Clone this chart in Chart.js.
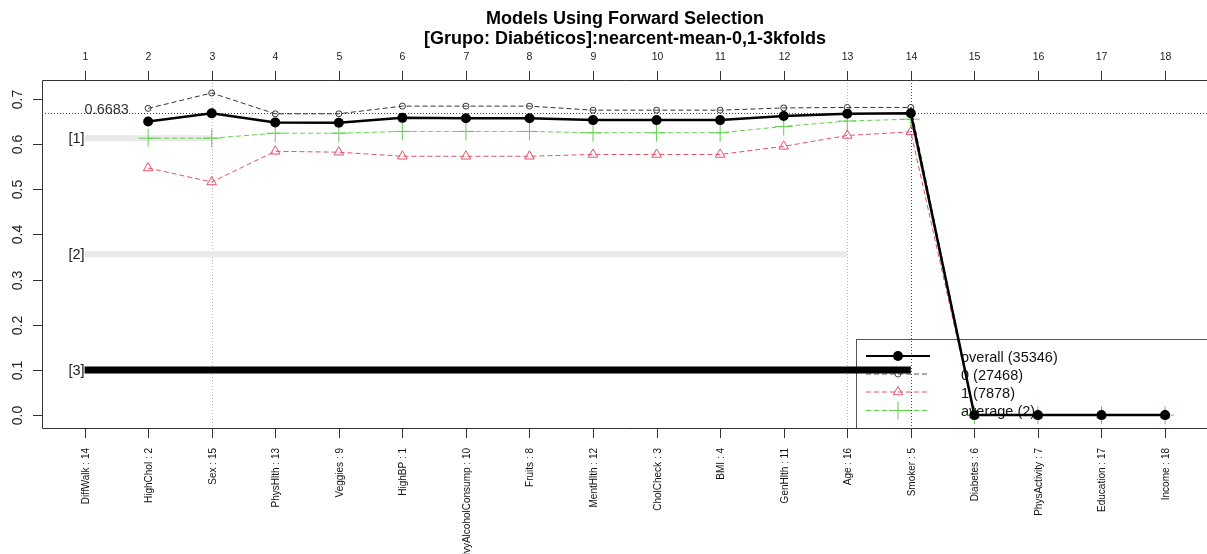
<!DOCTYPE html>
<html>
<head>
<meta charset="utf-8">
<script src="https://cdn.jsdelivr.net/npm/chart.js@4"></script>
<style>
  html, body { margin: 0; padding: 0; background: #fff; overflow: hidden; }
  canvas { display: block; }
</style>
</head>
<body>
<canvas id="myChart" width="1207" height="554"></canvas>
<script>
// data
const titleLines = ["Models Using Forward Selection", "[Grupo: Diabéticos]:nearcent-mean-0,1-3kfolds"];
const categories = [
  "DiffWalk : 14", "HighChol : 2", "Sex : 15", "PhysHlth : 13", "Veggies : 9", "HighBP : 1",
  "HvyAlcoholConsump : 10", "Fruits : 8", "MentHlth : 12", "CholCheck : 3", "BMI : 4", "GenHlth : 11",
  "Age : 16", "Smoker : 5", "Diabetes : 6", "PhysActivity : 7", "Education : 17", "Income : 18",
];
const topTicks = ["1", "2", "3", "4", "5", "6", "7", "8", "9", "10", "11", "12", "13", "14", "15", "16", "17", "18"];
const yTicks = [0, 0.1, 0.2, 0.3, 0.4, 0.5, 0.6, 0.7];
const yTickLabels = ["0.0", "0.1", "0.2", "0.3", "0.4", "0.5", "0.6", "0.7"];

const overall = [null, 0.650, 0.668, 0.648, 0.647, 0.658, 0.657, 0.657, 0.653, 0.653, 0.653, 0.662, 0.667, 0.6683, 0, 0, 0, 0];
const class0 = [null, 0.679, 0.713, 0.667, 0.667, 0.684, 0.684, 0.684, 0.675, 0.675, 0.675, 0.680, 0.681, 0.681, 0, 0, 0, 0];
const class1 = [null, 0.547, 0.516, 0.584, 0.582, 0.573, 0.573, 0.573, 0.577, 0.577, 0.577, 0.595, 0.619, 0.627, 0, 0, 0, 0];
const average = [null, 0.613, 0.613, 0.624, 0.624, 0.628, 0.628, 0.628, 0.625, 0.625, 0.625, 0.639, 0.651, 0.655, 0, 0, 0, 0];

const levelLabels = ["[1]", "[2]", "[3]"];
const levelValues = [0.613, 0.356, 0.1];
const levelEnds = [3, 13, 14];

const bestValue = 0.6683;
const bestStep = 14;
const markedSteps = [3, 13];
const legendLabels = ["overall (35346)", "0 (27468)", "1 (7878)", "average (2)"];

const RED = "#DF536B";
const GREEN = "#61D04F";
const FONT = '"Liberation Sans", Arial, sans-serif';

function toPoints(arr) {
  return arr.map((v, i) => (v === null ? null : { x: i + 1, y: v })).filter((p) => p);
}

function drawMarker(ctx, style, x, y, color, r) {
  ctx.save();
  ctx.setLineDash([]);
  ctx.strokeStyle = color;
  ctx.fillStyle = color;
  ctx.lineWidth = 1;
  ctx.beginPath();
  if (style === "dot") {
    ctx.arc(x, y, r, 0, Math.PI * 2);
    ctx.fill();
  } else if (style === "ring") {
    ctx.arc(x, y, r, 0, Math.PI * 2);
    ctx.stroke();
  } else if (style === "tri") {
    ctx.moveTo(x, y - r);
    ctx.lineTo(x + r * 0.866, y + r * 0.5);
    ctx.lineTo(x - r * 0.866, y + r * 0.5);
    ctx.closePath();
    ctx.stroke();
  } else if (style === "plus") {
    ctx.moveTo(x - r, y);
    ctx.lineTo(x + r, y);
    ctx.moveTo(x, y - r);
    ctx.lineTo(x, y + r);
    ctx.stroke();
  }
  ctx.restore();
}

function seg(ctx, x1, y1, x2, y2) {
  ctx.beginPath();
  ctx.moveTo(x1, y1);
  ctx.lineTo(x2, y2);
  ctx.stroke();
}

const rAxes = {
  id: "rAxes",
  beforeDatasetsDraw(chart) {
    const { ctx, chartArea: a, scales: { x, y } } = chart;
    ctx.save();
    ctx.lineWidth = 1;
    ctx.setLineDash([1, 2]);

    // guide lines
    ctx.strokeStyle = "#b5b5b5";
    markedSteps.forEach((s) => {
      const px = Math.round(x.getPixelForValue(s)) + 0.5;
      seg(ctx, px, a.top, px, a.bottom);
    });
    ctx.strokeStyle = "#444";
    const bx = Math.round(x.getPixelForValue(bestStep)) + 0.5;
    seg(ctx, bx, a.top, bx, a.bottom);
    const by = Math.round(y.getPixelForValue(bestValue)) + 0.5;
    seg(ctx, a.left, by, a.right, by);

    // legend
    ctx.setLineDash([]);
    ctx.strokeStyle = "#555";
    ctx.strokeRect(856.5, 339.5, 400, 89);
    const rows = [356, 374, 392, 410.5];
    const styles = [
      { color: "#000", width: 2, dash: [], marker: "dot", r: 5 },
      { color: "#555", width: 1, dash: [5, 3], marker: "ring", r: 3 },
      { color: RED, width: 1, dash: [5, 3], marker: "tri", r: 5.5 },
      { color: GREEN, width: 1, dash: [5, 3], marker: "plus", r: 9 },
    ];
    styles.forEach((s, i) => {
      ctx.strokeStyle = s.color;
      ctx.lineWidth = s.width;
      ctx.setLineDash(s.dash);
      seg(ctx, 866, rows[i], 930, rows[i]);
      drawMarker(ctx, s.marker, 898, rows[i], s.color, s.r);
      ctx.fillStyle = "#111";
      ctx.font = "14.5px " + FONT;
      ctx.textAlign = "left";
      ctx.textBaseline = "middle";
      ctx.fillText(legendLabels[i], 961, rows[i] + 1.5);
    });
    ctx.restore();
  },
  afterDraw(chart) {
    const { ctx, chartArea: a, scales: { x, y } } = chart;
    ctx.save();
    ctx.strokeStyle = "#333";
    ctx.lineWidth = 1;
    ctx.setLineDash([]);

    // box
    seg(ctx, 42.5, a.top + 0.5, 42.5, a.bottom + 0.5);
    seg(ctx, 42.5, a.top + 0.5, a.right + 2, a.top + 0.5);
    seg(ctx, 42.5, a.bottom + 0.5, a.right + 2, a.bottom + 0.5);

    // top axis
    ctx.fillStyle = "#222";
    ctx.font = "10.5px " + FONT;
    ctx.textAlign = "center";
    ctx.textBaseline = "middle";
    topTicks.forEach((t, i) => {
      const px = Math.round(x.getPixelForValue(i + 1)) + 0.5;
      seg(ctx, px, a.top - 9, px, a.top);
      ctx.fillText(t, px, 57);
    });

    // bottom axis
    ctx.fillStyle = "#111";
    ctx.font = "10px " + FONT;
    categories.forEach((c, i) => {
      const px = Math.round(x.getPixelForValue(i + 1)) + 0.5;
      seg(ctx, px, a.bottom, px, a.bottom + 10);
      ctx.save();
      ctx.translate(px + 1, 448);
      ctx.rotate(-Math.PI / 2);
      ctx.textAlign = "right";
      ctx.textBaseline = "middle";
      ctx.fillText(c, 0, 0);
      ctx.restore();
    });

    // left axis
    ctx.fillStyle = "#222";
    ctx.font = "14px " + FONT;
    yTicks.forEach((v, i) => {
      const py = Math.round(y.getPixelForValue(v)) + 0.5;
      seg(ctx, 33, py, 42, py);
      ctx.save();
      ctx.translate(18, py);
      ctx.rotate(-Math.PI / 2);
      ctx.textAlign = "center";
      ctx.textBaseline = "middle";
      ctx.fillText(yTickLabels[i], 0, 0);
      ctx.restore();
    });

    // level labels and best value
    ctx.font = "14.5px " + FONT;
    ctx.fillStyle = "#222";
    ctx.textAlign = "right";
    ctx.textBaseline = "middle";
    const x1 = x.getPixelForValue(1);
    levelLabels.forEach((l, i) => {
      ctx.fillText(l, x1, y.getPixelForValue(levelValues[i]) + 1);
    });
    ctx.textAlign = "left";
    ctx.textBaseline = "alphabetic";
    ctx.fillStyle = "#333";
    ctx.fillText(bestValue.toFixed(4), x1, y.getPixelForValue(bestValue) + 1);

    // title
    ctx.fillStyle = "#000";
    ctx.font = "bold 18px " + FONT;
    ctx.textAlign = "center";
    ctx.fillText(titleLines[0], 625, 24);
    ctx.fillText(titleLines[1], 625, 44);
    ctx.restore();
  },
};

const levelSets = levelValues.map((v, i) => ({
  label: levelLabels[i],
  data: [{ x: 1, y: v }, { x: levelEnds[i], y: v }],
  borderColor: i === 2 ? "#000" : "#e9e9e9",
  borderWidth: i === 2 ? 7 : 6,
  borderCapStyle: "butt",
  pointRadius: 0,
  order: 10 + i,
}));

const ctx = document.getElementById("myChart");

const chart = new Chart(ctx, {
  type: "line",
  data: {
    datasets: [
      {
        label: "overall",
        data: toPoints(overall),
        borderColor: "#000",
        borderWidth: 2.5,
        pointStyle: "circle",
        pointRadius: 5,
        pointBackgroundColor: "#000",
        pointBorderColor: "#000",
        pointBorderWidth: 0,
        order: 0,
      },
      {
        label: "0",
        data: toPoints(class0),
        borderColor: "#333",
        borderWidth: 1,
        borderDash: [5, 3],
        pointStyle: "circle",
        pointRadius: 3,
        pointBackgroundColor: "rgba(0,0,0,0)",
        pointBorderColor: "#333",
        pointBorderWidth: 1,
        order: 1,
      },
      {
        label: "1",
        data: toPoints(class1),
        borderColor: RED,
        borderWidth: 1,
        borderDash: [5, 3],
        pointStyle: "triangle",
        pointRadius: 5.5,
        pointBackgroundColor: "rgba(0,0,0,0)",
        pointBorderColor: RED,
        pointBorderWidth: 1,
        order: 2,
      },
      {
        label: "average",
        data: toPoints(average),
        borderColor: GREEN,
        borderWidth: 1,
        borderDash: [5, 3],
        pointStyle: "cross",
        pointRadius: 9,
        pointBorderColor: GREEN,
        pointBorderWidth: 1,
        order: 3,
      },
      ...levelSets,
    ],
  },
  options: {
    responsive: false,
    animation: false,
    devicePixelRatio: 1,
    layout: { autoPadding: false, padding: { left: 42, top: 80, right: 0, bottom: 126 } },
    plugins: { legend: { display: false }, tooltip: { enabled: false } },
    elements: { line: { tension: 0 } },
    scales: {
      x: { type: "linear", min: 0.33, max: 18.66, display: false },
      y: { type: "linear", min: -0.0285, max: 0.7418, display: false },
    },
  },
  plugins: [rAxes],
});
</script>
</body>
</html>
